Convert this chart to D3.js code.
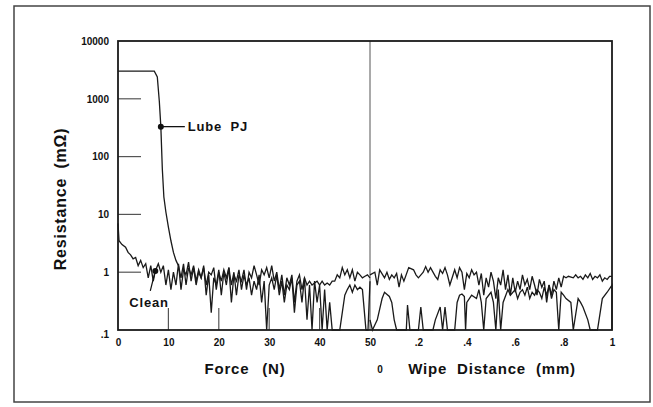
<!DOCTYPE html>
<meta charset="utf-8">
<style>
  body { margin: 0; background: #fff; }
  text { font-family: "Liberation Sans", Arial, sans-serif; font-weight: bold; fill: #111; }
</style>
<body>
<script src="https://cdn.jsdelivr.net/npm/d3@7"></script>
<script>
// y axis decades (mOhm) and x tick values
var yTicks = [0.1, 1, 10, 100, 1000, 10000];
var yTickLabels = [".1", "1", "10", "100", "1000", "10000"];
var forceTicks = [0, 10, 20, 30, 40, 50];
var wipeTicks = [0.2, 0.4, 0.6, 0.8, 1];
var wipeTickLabels = [".2", ".4", ".6", ".8", "1"];

// [force N, resistance mOhm]
var lubeForce = [[0,3000],[7.2,3000],[7.8,2400],[8.2,900],[8.5,330],[8.8,60],[9.1,20],[9.5,11],[10,6],[10.5,3.5],[11,2.2],[11.5,1.6],[12,1.3],[12.5,0.8],[13,1.4],[13.5,0.6],[14,1.2],[14.5,0.9],[15,1.3],[15.5,0.7],[16,1.1],[16.5,0.8],[17,1.2],[17.5,0.6],[18,1.0],[18.5,0.9],[19,1.2],[19.5,0.5],[20,1.0],[20.5,0.7],[21,1.1],[21.5,0.8],[22,1.2],[22.5,0.6],[23,1.0],[23.5,0.4],[24,0.9],[24.5,0.7],[25,1.1],[25.5,0.5],[26,1.0],[26.5,0.8],[27,1.3],[27.5,0.9],[28,0.6],[28.5,1.1],[29,0.9],[29.5,1.2],[30,0.8],[30.5,1.3],[31,0.7],[31.5,1.0],[32,0.5],[32.5,0.9],[33,0.4],[33.5,0.8],[34,0.6],[34.5,0.9],[35,0.3],[35.5,0.7],[36,0.9],[36.5,0.5],[37,0.8],[37.5,0.6],[38,0.7],[38.5,0.6],[39,0.65],[39.5,0.7],[40,0.6],[40.5,0.7],[41,0.6],[41.5,0.65],[42,0.6],[42.5,0.7],[43,0.7],[43.5,0.9],[44,0.8],[44.5,1.2],[45,0.9],[45.5,1.1],[46,0.8],[46.5,1.1],[47,0.7],[47.5,1.0],[48,0.9],[48.5,0.8],[49,0.85],[49.5,0.9],[50,0.8]];

var cleanForce = [[0,7],[0.2,3.5],[0.8,3],[1.5,2.7],[2,2.2],[2.5,2.0],[3,1.7],[3.5,1.8],[4,1.3],[4.5,1.6],[5,1.2],[5.5,1.4],[6,0.8],[6.5,1.3],[7,0.7],[7.4,1.05],[8,1.4],[8.5,1.0],[9,1.3],[9.5,0.6],[10,1.1],[10.5,0.5],[11,1.0],[11.5,0.6],[12,1.4],[12.5,0.5],[13,1.1],[13.5,0.9],[14,1.5],[14.5,0.7],[15,1.2],[15.5,0.6],[16,1.0],[16.5,0.8],[17,1.3],[17.5,0.4],[18,0.9],[18.5,0.2],[19,0.8],[19.5,0.6],[20,1.1],[20.5,0.4],[21,1.0],[21.5,0.6],[22,1.2],[22.5,0.3],[23,0.9],[23.5,0.7],[24,1.1],[24.5,0.5],[25,0.9],[25.5,0.6],[26,0.8],[26.5,0.4],[27,0.7],[27.5,0.5],[28,0.9],[28.5,0.3],[29,0.7],[29.5,0.1],[30,0.6],[30.5,0.8],[31,0.5],[31.5,0.9],[32,0.4],[32.5,0.7],[33,0.3],[33.5,0.6],[34,0.5],[34.5,0.8],[35,0.2],[35.5,0.6],[36,0.7],[36.5,0.3],[37,0.8],[37.5,0.15],[38,0.6],[38.5,0.1],[39,0.7],[39.5,0.3],[40,0.6],[40.5,0.1],[41,0.5],[41.5,0.1],[42,0.3],[42.5,0.1],[43,0.1],[44,0.1],[44.5,0.2],[45,0.4],[45.5,0.5],[46,0.6],[46.5,0.45],[47,0.6],[47.5,0.5],[48,0.55],[48.5,0.5],[49.2,0.1],[49.6,0.1],[50,0.7]];

// [wipe distance mm, resistance mOhm]
var upperWipe = [[0,0.9],[0.02,1.0],[0.03,0.6],[0.04,1.1],[0.06,0.8],[0.07,1.0],[0.08,0.75],[0.09,0.9],[0.1,0.8],[0.11,0.95],[0.12,0.55],[0.13,0.9],[0.14,0.7],[0.16,1.2],[0.18,1.1],[0.19,0.9],[0.2,0.8],[0.22,1.0],[0.23,1.25],[0.24,1.0],[0.25,1.2],[0.27,0.85],[0.28,0.75],[0.29,1.1],[0.3,0.95],[0.31,1.2],[0.32,0.9],[0.33,0.6],[0.35,1.1],[0.36,0.8],[0.37,1.2],[0.38,1.0],[0.39,0.5],[0.4,0.95],[0.41,0.8],[0.42,1.1],[0.43,0.9],[0.44,1.0],[0.45,0.6],[0.46,0.95],[0.47,0.4],[0.48,0.8],[0.49,0.55],[0.5,1.0],[0.51,0.7],[0.52,0.35],[0.53,0.8],[0.54,0.6],[0.55,1.1],[0.56,0.5],[0.57,0.9],[0.58,0.4],[0.59,0.8],[0.6,0.45],[0.61,0.7],[0.62,0.5],[0.63,0.9],[0.64,0.6],[0.65,0.75],[0.66,0.5],[0.67,0.85],[0.68,0.6],[0.69,0.4],[0.7,0.75],[0.71,0.55],[0.72,0.7],[0.73,0.3],[0.74,0.6],[0.75,0.4],[0.76,0.7],[0.77,0.5],[0.78,0.8],[0.79,0.55],[0.8,0.85],[0.81,0.8],[0.82,0.85],[0.84,0.8],[0.85,0.9],[0.86,0.8],[0.87,0.85],[0.88,0.75],[0.89,0.9],[0.9,0.8],[0.91,0.95],[0.92,0.75],[0.93,0.85],[0.94,0.8],[0.95,0.9],[0.96,0.7],[0.97,0.8],[0.98,0.75],[0.99,0.85],[1,0.85]];

var lowerWipe = [[0,0.15],[0.01,0.1],[0.03,0.15],[0.05,0.35],[0.06,0.45],[0.08,0.38],[0.09,0.3],[0.1,0.15],[0.11,0.1],[0.15,0.1],[0.155,0.27],[0.165,0.1],[0.2,0.1],[0.21,0.25],[0.22,0.1],[0.26,0.1],[0.27,0.15],[0.29,0.25],[0.3,0.1],[0.31,0.25],[0.32,0.1],[0.35,0.1],[0.36,0.3],[0.37,0.4],[0.38,0.42],[0.39,0.38],[0.395,0.1],[0.4,0.3],[0.42,0.4],[0.44,0.35],[0.45,0.5],[0.46,0.3],[0.47,0.1],[0.48,0.35],[0.5,0.45],[0.51,0.3],[0.52,0.1],[0.53,0.5],[0.54,0.1],[0.55,0.3],[0.57,0.5],[0.58,0.4],[0.6,0.5],[0.61,0.35],[0.62,0.45],[0.63,0.5],[0.64,0.4],[0.65,0.55],[0.66,0.35],[0.67,0.45],[0.68,0.4],[0.69,0.5],[0.7,0.45],[0.71,0.35],[0.72,0.55],[0.73,0.4],[0.74,0.6],[0.75,0.35],[0.76,0.5],[0.77,0.45],[0.78,0.1],[0.79,0.45],[0.8,0.4],[0.81,0.35],[0.83,0.3],[0.84,0.1],[0.86,0.35],[0.87,0.3],[0.88,0.25],[0.9,0.15],[0.91,0.1],[0.94,0.1],[0.96,0.35],[0.98,0.45],[1,0.6],[1,0.1]];

var lubeMark = [8.5, 330];
var cleanMark = [7.4, 1.05];

var W = 653, H = 407;
var plot = {left: 118, right: 612, top: 41, bottom: 330, split: 370};

var svg = d3.select("body").append("svg")
    .attr("width", W)
    .attr("height", H);

// outer frame
svg.append("rect")
    .attr("x", 14).attr("y", 6)
    .attr("width", 636).attr("height", 396)
    .attr("fill", "none").attr("stroke", "#444").attr("stroke-width", 1.5);

var y = d3.scaleLog().domain([0.1, 10000]).range([plot.bottom, plot.top]);
var xF = d3.scaleLinear().domain([0, 50]).range([plot.left, plot.split]);
var xW = d3.scaleLinear().domain([0, 1]).range([plot.split, plot.right]);

// inner tick marks
svg.selectAll(".ytick").data(yTicks.slice(1, 5)).enter().append("line")
    .attr("x1", plot.left).attr("x2", plot.left + 23)
    .attr("y1", d => y(d)).attr("y2", d => y(d))
    .attr("stroke", "#555").attr("stroke-width", 1.2);

svg.selectAll(".xtick").data(forceTicks.slice(1, 5)).enter().append("line")
    .attr("x1", d => xF(d)).attr("x2", d => xF(d))
    .attr("y1", plot.bottom).attr("y2", plot.bottom - 22)
    .attr("stroke", "#555").attr("stroke-width", 1.2);

// divider between force and wipe panels
svg.append("line")
    .attr("x1", plot.split).attr("x2", plot.split)
    .attr("y1", plot.top).attr("y2", plot.bottom)
    .attr("stroke", "#555").attr("stroke-width", 1);

// data lines
var lineF = d3.line().x(d => xF(d[0])).y(d => y(d[1]));
var lineW = d3.line().x(d => xW(d[0])).y(d => y(d[1]));

[lubeForce, cleanForce].forEach(function(s) {
  svg.append("path").attr("d", lineF(s))
    .attr("fill", "none").attr("stroke", "#1a1a1a").attr("stroke-width", 1.3);
});
[upperWipe, lowerWipe].forEach(function(s) {
  svg.append("path").attr("d", lineW(s))
    .attr("fill", "none").attr("stroke", "#1a1a1a").attr("stroke-width", 1.3);
});

// plot box
svg.append("rect")
    .attr("x", plot.left).attr("y", plot.top)
    .attr("width", plot.right - plot.left).attr("height", plot.bottom - plot.top)
    .attr("fill", "none").attr("stroke", "#1a1a1a").attr("stroke-width", 1.8);

// axes labels
var yAxis = svg.append("g")
    .attr("transform", "translate(" + plot.left + ",0)")
    .call(d3.axisLeft(y).tickValues(yTicks).tickSize(0).tickPadding(9)
      .tickFormat((d, i) => yTickLabels[i]));
var xAxisF = svg.append("g")
    .attr("transform", "translate(0," + plot.bottom + ")")
    .call(d3.axisBottom(xF).tickValues(forceTicks).tickSize(0).tickPadding(9));
var xAxisW = svg.append("g")
    .attr("transform", "translate(0," + plot.bottom + ")")
    .call(d3.axisBottom(xW).tickValues(wipeTicks).tickSize(0).tickPadding(9)
      .tickFormat((d, i) => wipeTickLabels[i]));

[yAxis, xAxisF, xAxisW].forEach(function(g) {
  g.select(".domain").remove();
  g.selectAll("text")
    .style("font-family", "'Liberation Sans', Arial, sans-serif")
    .style("font-weight", "bold")
    .style("font-size", "10px")
    .attr("fill", "#111");
});
yAxis.selectAll("text").filter(d => d === 0.1).attr("dy", "0.75em");

// titles
svg.append("text")
    .attr("transform", "translate(60," + 199 + ") rotate(-90)")
    .attr("text-anchor", "middle").attr("dominant-baseline", "central")
    .style("font-size", "16px").style("letter-spacing", "0.8px").style("word-spacing", "4px")
    .text("Resistance (mΩ)");

svg.append("text")
    .attr("x", 245).attr("y", 368)
    .attr("text-anchor", "middle").attr("dominant-baseline", "central")
    .style("font-size", "15px").style("letter-spacing", "0.8px").style("word-spacing", "8px")
    .text("Force (N)");

svg.append("text")
    .attr("x", 380).attr("y", 369)
    .attr("text-anchor", "middle").attr("dominant-baseline", "central")
    .style("font-size", "10px")
    .text("0");

svg.append("text")
    .attr("x", 492).attr("y", 368)
    .attr("text-anchor", "middle").attr("dominant-baseline", "central")
    .style("font-size", "15px").style("letter-spacing", "0.8px").style("word-spacing", "5px")
    .text("Wipe Distance (mm)");

// series labels
svg.append("circle")
    .attr("cx", xF(lubeMark[0])).attr("cy", y(lubeMark[1])).attr("r", 3).attr("fill", "#111");
svg.append("line")
    .attr("x1", xF(lubeMark[0])).attr("x2", xF(lubeMark[0]) + 24)
    .attr("y1", y(lubeMark[1])).attr("y2", y(lubeMark[1]))
    .attr("stroke", "#111").attr("stroke-width", 1.3);
svg.append("text")
    .attr("x", xF(lubeMark[0]) + 27).attr("y", y(lubeMark[1]))
    .attr("dominant-baseline", "central")
    .style("font-size", "13px").style("letter-spacing", "0.8px").style("word-spacing", "4px")
    .text("Lube PJ");

svg.append("circle")
    .attr("cx", xF(cleanMark[0])).attr("cy", y(cleanMark[1])).attr("r", 3).attr("fill", "#111");
svg.append("line")
    .attr("x1", xF(cleanMark[0])).attr("x2", xF(cleanMark[0]) - 5)
    .attr("y1", y(cleanMark[1])).attr("y2", y(cleanMark[1]) + 20)
    .attr("stroke", "#111").attr("stroke-width", 1.2);
svg.append("text")
    .attr("x", 149).attr("y", 302)
    .attr("text-anchor", "middle").attr("dominant-baseline", "central")
    .style("font-size", "13px").style("letter-spacing", "0.8px")
    .text("Clean");
</script>
</body>
